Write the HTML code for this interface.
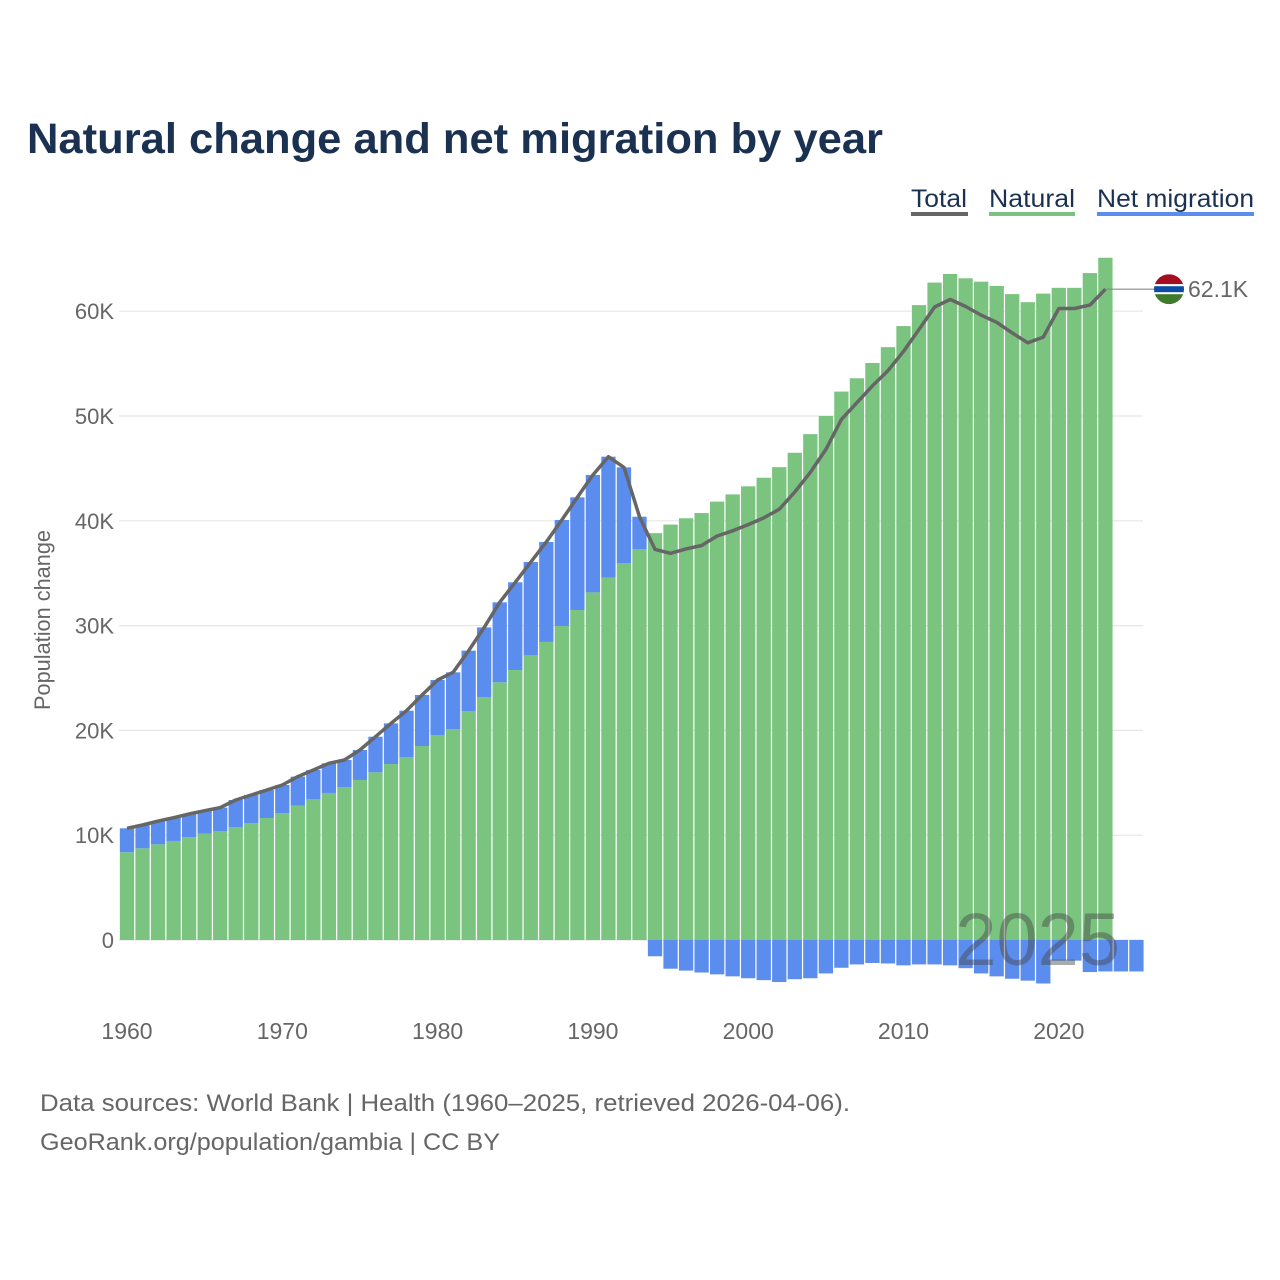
<!DOCTYPE html>
<html><head><meta charset="utf-8"><style>
body{margin:0;background:#fff;}
svg{display:block;font-family:"Liberation Sans",sans-serif;}
</style></head><body>
<svg id="chart" width="1280" height="1280" viewBox="0 0 1280 1280">
<text x="27" y="153" font-size="43" font-weight="bold" fill="#1b3152" textLength="856" lengthAdjust="spacingAndGlyphs">Natural change and net migration by year</text>
<g>
<g><text x="911" y="207" font-size="25" fill="#1b3152" textLength="56" lengthAdjust="spacingAndGlyphs">Total</text><rect x="911" y="212" width="57" height="4" fill="#666"/></g>
<g><text x="989" y="207" font-size="25" fill="#1b3152" textLength="86" lengthAdjust="spacingAndGlyphs">Natural</text><rect x="989" y="212" width="86" height="4" fill="#7bc47f"/></g>
<g><text x="1097" y="207" font-size="25" fill="#1b3152" textLength="157" lengthAdjust="spacingAndGlyphs">Net migration</text><rect x="1097" y="212" width="157" height="4" fill="#5b8def"/></g>
</g>
<g id="grid"></g>
<g id="yticks"></g>
<g id="xticks"></g>
<text x="0" y="0" transform="translate(50,620) rotate(-90)" text-anchor="middle" font-size="22" fill="#666" textLength="180" lengthAdjust="spacingAndGlyphs">Population change</text>
<g id="bars"></g>
<path id="line" fill="none" stroke="#666" stroke-width="3.5" stroke-linejoin="round"/>
<text x="1120" y="965" text-anchor="end" font-size="74" fill="#444" fill-opacity="0.45">2025</text>
<g id="endlabel"></g>
<text x="40" y="1111" font-size="24" fill="#666" textLength="810" lengthAdjust="spacingAndGlyphs">Data sources: World Bank | Health (1960–2025, retrieved 2026-04-06).</text>
<text x="40" y="1150" font-size="24" fill="#666" textLength="460" lengthAdjust="spacingAndGlyphs">GeoRank.org/population/gambia | CC BY</text>
</svg>
<script>
const years = [];
for (let y = 1960; y <= 2025; y++) years.push(y);
const natural = [8.37,8.75,9.13,9.45,9.80,10.15,10.40,10.78,11.16,11.64,12.09,12.82,13.42,14.03,14.60,15.27,16.00,16.79,17.43,18.51,19.53,20.13,21.85,23.16,24.59,25.76,27.16,28.44,29.96,31.49,33.17,34.57,35.94,37.31,38.82,39.64,40.24,40.74,41.83,42.52,43.29,44.11,45.12,46.49,48.27,50.0,52.33,53.6,55.06,56.57,58.58,60.58,62.73,63.55,63.14,62.82,62.41,61.63,60.86,61.68,62.23,62.23,63.64,65.1,null,null];
const totalEarly = [10.66,10.97,11.35,11.67,12.02,12.34,12.63,13.36,13.84,14.31,14.79,15.59,16.22,16.86,17.18,18.13,19.40,20.67,21.88,23.38,24.81,25.54,27.61,29.83,32.22,34.13,36.07,37.98,40.08,42.24,44.37,46.12,45.10,40.39];
const migrationLate = [-1.55,-2.74,-2.92,-3.10,-3.28,-3.47,-3.65,-3.83,-4.01,-3.74,-3.65,-3.19,-2.65,-2.33,-2.19,-2.24,-2.42,-2.33,-2.33,-2.42,-2.69,-3.19,-3.47,-3.70,-3.88,-4.15,-1.97,-1.97,-3.06,-3.0,-3.0,-3.0];
const migration = natural.map((n,i)=> i<totalEarly.length ? +(totalEarly[i]-n).toFixed(2) : migrationLate[i-totalEarly.length]);
const yTicks = [0,10,20,30,40,50,60];
const yTickLabels = ["0","10K","20K","30K","40K","50K","60K"];
const xTicks = [1960,1970,1980,1990,2000,2010,2020];

const NS="http://www.w3.org/2000/svg";
const X0=127, PITCH=15.53, Y0=940, PPK=10.48;
const xs = yr => X0+(yr-1960)*PITCH;
const ys = v => Y0 - v*PPK;
function mk(tag, attrs, parent){const e=document.createElementNS(NS,tag);for(const k in attrs)e.setAttribute(k,attrs[k]);parent.appendChild(e);return e;}
const grid=document.getElementById('grid'), yt=document.getElementById('yticks'), xt=document.getElementById('xticks'), bars=document.getElementById('bars');
yTicks.forEach((v,i)=>{
  const l=mk('line',{x1:119,x2:1143,y1:ys(v),y2:ys(v),stroke:'#e6e6e6','stroke-width':1.2},grid);
  
  
  const t=mk('text',{x:114,y:ys(v)+8,'text-anchor':'end','font-size':22,fill:'#666'},yt);
  t.textContent=yTickLabels[i];
  
  
});
xTicks.forEach(yr=>{
  const t=mk('text',{x:xs(yr),y:1039,'text-anchor':'middle','font-size':23,fill:'#666'},xt);
  t.textContent=yr;
  
  
});
const BW=14.3;
years.forEach((yr,i)=>{
  const n=natural[i], m=migration[i], cx=xs(yr);
  if(n!=null){
    const r=mk('rect',{x:cx-BW/2,y:ys(n),width:BW,height:ys(0)-ys(n),fill:'#7bc47f'},bars);
    
    
  }
  if(m!=null){
    const base = m>=0 ? (n||0) : 0;
    const top = ys(base+Math.max(m,0)), bot = ys(base+Math.min(m,0));
    const r=mk('rect',{x:cx-BW/2,y:top,width:BW,height:bot-top,fill:'#5b8def'},bars);
    
    
  }
});
let d='', last=null;
years.forEach((yr,i)=>{
  if(natural[i]==null) return;
  const t=natural[i]+migration[i];
  d+=(d?'L':'M')+xs(yr).toFixed(1)+','+ys(t).toFixed(1);
  last={x:xs(yr),y:ys(t),v:t};
});
document.getElementById('line').setAttribute('d',d);
const el=document.getElementById('endlabel');
mk('line',{x1:last.x,x2:1155,y1:last.y,y2:last.y,stroke:'#888','stroke-width':1.2},el);
const cy=last.y, fx=1169;
const cp=mk('clipPath',{id:'flagclip'},el);
mk('circle',{cx:fx,cy:cy,r:15},cp);
const fg=mk('g',{'clip-path':'url(#flagclip)'},el);


mk('rect',{x:fx-15,y:cy-15,width:30,height:10,fill:'#a50d22'},fg);
mk('rect',{x:fx-15,y:cy-5,width:30,height:10,fill:'#fff'},fg);
mk('rect',{x:fx-15,y:cy-3,width:30,height:6,fill:'#0c4ca8'},fg);
mk('rect',{x:fx-15,y:cy+5,width:30,height:10,fill:'#3e7a2c'},fg);
const lt=mk('text',{x:1188,y:cy+8,'font-size':23,fill:'#666'},el);
lt.textContent=last.v.toFixed(1)+'K';


</script>
</body></html>
